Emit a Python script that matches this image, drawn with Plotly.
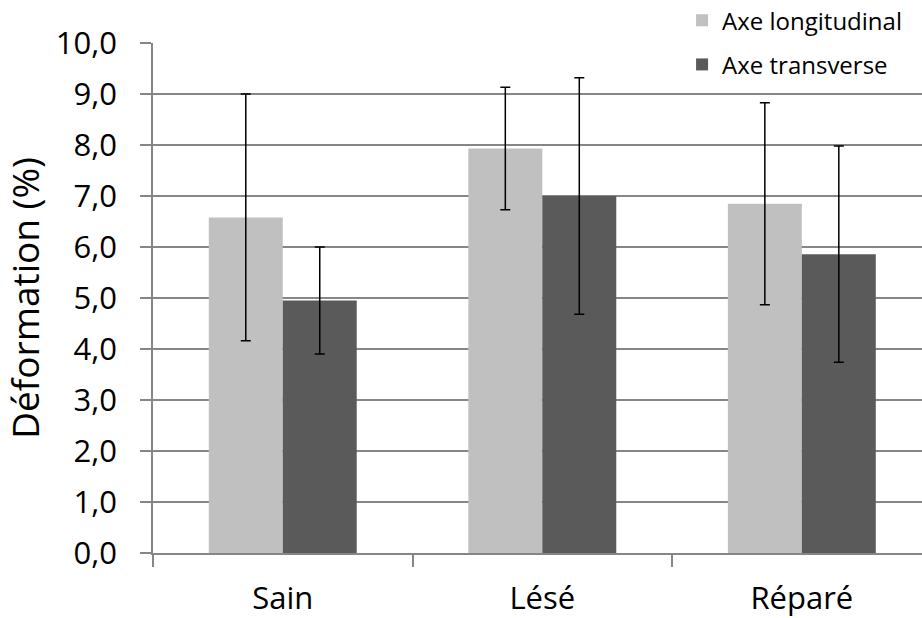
import plotly.graph_objects as go

categories = ["Sain", "Lésé", "Réparé"]
long_vals = [6.58, 7.93, 6.85]
long_err = [2.42, 1.20, 1.98]
trans_vals = [4.95, 7.00, 5.86]
trans_err = [1.05, 2.32, 2.12]
y_ticks = [0, 1, 2, 3, 4, 5, 6, 7, 8, 9, 10]
y_title = "Déformation (%)"

fig = go.Figure()
fig.add_trace(go.Bar(
    x=categories, y=long_vals, name="Axe longitudinal",
    marker=dict(color="#c0c0c0", line=dict(width=0)),
    error_y=dict(type="data", array=long_err, color="black", thickness=1.5, width=5),
    legendgroup="a",
))
fig.add_trace(go.Bar(
    x=categories, y=trans_vals, name="Axe transverse",
    marker=dict(color="#5a5a5a", line=dict(width=0)),
    error_y=dict(type="data", array=trans_err, color="black", thickness=1.5, width=5),
    legendgroup="b",
))

fig.update_layout(
    width=922, height=618,
    margin=dict(l=153, r=0, t=43, b=65, autoexpand=False),
    plot_bgcolor="white", paper_bgcolor="white",
    barmode="group", bargap=0.43, bargroupgap=0,
    separators=",.",
    font=dict(family="Open Sans, Liberation Sans, sans-serif", color="black"),
    showlegend=True,
    legend=dict(
        x=0.688, y=1.088, xref="paper", yref="paper", xanchor="left", yanchor="top",
        bgcolor="rgba(0,0,0,0)", font=dict(size=24),
        traceorder="grouped", tracegroupgap=10,
        itemwidth=30,
    ),
    annotations=[dict(
        text=y_title, textangle=-90, showarrow=False,
        xref="paper", yref="paper", x=-0.168, y=0.5,
        xanchor="center", yanchor="middle",
        font=dict(size=37),
    )],
)
fig.update_xaxes(
    range=[-0.5, 2.463], tickson="boundaries",
    ticks="outside", ticklen=12, tickcolor="#868686", tickwidth=1.5,
    showline=True, linecolor="#868686", linewidth=1.5,
    showgrid=False, tickfont=dict(size=31), ticklabelstandoff=17,
)
fig.update_yaxes(
    range=[0, 10], tickvals=y_ticks, tickformat=".1f",
    ticks="outside", ticklen=11, tickcolor="#868686", tickwidth=1.5,
    showline=True, linecolor="#868686", linewidth=1.5,
    showgrid=True, gridcolor="#868686", gridwidth=1.5,
    tickfont=dict(size=31), ticklabelstandoff=17,
    zeroline=False,
)

fig.write_html(
    "out.html",
    config={"displayModeBar": False},
    post_script="document.body.style.margin='0';",
)
